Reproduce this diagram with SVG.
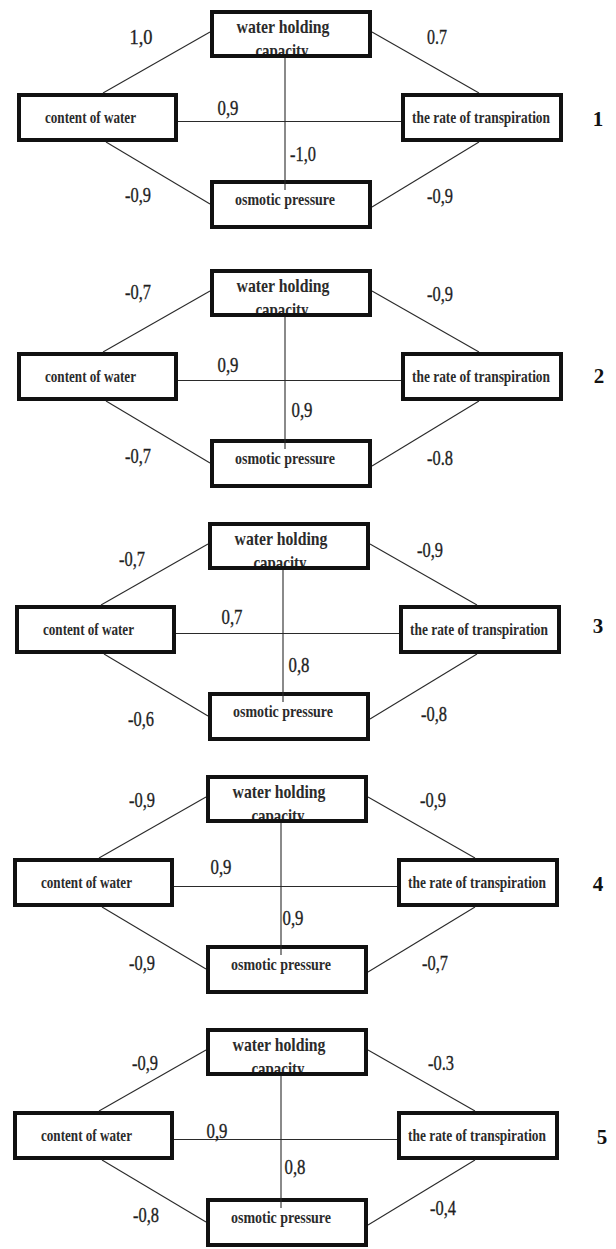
<svg xmlns="http://www.w3.org/2000/svg" width="616" height="1249" viewBox="0 0 616 1249">
<defs>
<style>
.bg{fill:#fff}
.box{fill:#fff;stroke:#111;stroke-width:4}
.frame{fill:none;stroke:#111;stroke-width:4}
.nt{font-family:"Liberation Serif","Times New Roman",serif;font-weight:bold;font-size:17px;fill:#2b2b2b;text-anchor:middle}
.nt2{font-size:19px}
.lbl{font-family:"Liberation Serif","Times New Roman",serif;font-size:22px;fill:#1e1e1e;stroke:#1e1e1e;stroke-width:0.35;text-anchor:middle}
.num{font-family:"Liberation Serif","Times New Roman",serif;font-weight:bold;font-size:21px;fill:#111;text-anchor:middle}
.cn line{stroke:#2a2a2a;stroke-width:1.1}
</style>
<clipPath id="clipTop"><rect x="210" y="0" width="162" height="48"/></clipPath>
</defs>
<rect x="0" y="0" width="616" height="1249" fill="#fff"/>

<!-- Panel 1 -->
<g id="panel1" transform="translate(0,10)">
 <g id="p1-water-holding-capacity">
  <rect class="bg" x="210" y="0" width="162" height="48"/>
  <g clip-path="url(#clipTop)">
   <text class="nt nt2" x="283" y="23" textLength="93" lengthAdjust="spacingAndGlyphs">water holding</text>
   <text class="nt nt2" x="282" y="47" textLength="53" lengthAdjust="spacingAndGlyphs">capacity</text>
  </g>
  <rect class="frame" x="212" y="2" width="158" height="44"/>
 </g>
 <g id="p1-content-of-water">
  <rect class="box" x="19" y="85" width="157" height="45"/>
  <text class="nt" x="90.5" y="113" textLength="91" lengthAdjust="spacingAndGlyphs">content of water</text>
 </g>
 <g id="p1-rate-of-transpiration">
  <rect class="box" x="403" y="85" width="158" height="45"/>
  <text class="nt" x="481" y="113" textLength="138" lengthAdjust="spacingAndGlyphs">the rate of transpiration</text>
 </g>
 <g id="p1-osmotic-pressure">
  <rect class="box" x="212" y="172" width="158" height="45"/>
  <text class="nt" x="285" y="195" textLength="100" lengthAdjust="spacingAndGlyphs">osmotic pressure</text>
 </g>
 <g id="p1-connectors" class="cn">
  <line x1="103" y1="83" x2="210" y2="22"/>
  <line x1="372" y1="22" x2="479" y2="83"/>
  <line x1="106" y1="132" x2="210" y2="194"/>
  <line x1="372" y1="197" x2="479" y2="132"/>
  <line x1="178" y1="111.5" x2="401" y2="111.5"/>
  <line x1="285" y1="48" x2="285" y2="180"/>
 </g>
 <g id="p1-labels">
  <text class="lbl" x="141" y="34" textLength="23" lengthAdjust="spacingAndGlyphs">1,0</text>
  <text class="lbl" x="437" y="34" textLength="20" lengthAdjust="spacingAndGlyphs">0.7</text>
  <text class="lbl" x="228" y="105" textLength="21" lengthAdjust="spacingAndGlyphs">0,9</text>
  <text class="lbl" x="303" y="151" textLength="26" lengthAdjust="spacingAndGlyphs">-1,0</text>
  <text class="lbl" x="138" y="192" textLength="26" lengthAdjust="spacingAndGlyphs">-0,9</text>
  <text class="lbl" x="440" y="193" textLength="26" lengthAdjust="spacingAndGlyphs">-0,9</text>
  <text class="num" x="598" y="116">1</text>
 </g>
</g>

<!-- Panel 2 -->
<g id="panel2" transform="translate(0,269)">
 <g id="p2-water-holding-capacity">
  <rect class="bg" x="210" y="0" width="162" height="48"/>
  <g clip-path="url(#clipTop)">
   <text class="nt nt2" x="283" y="23" textLength="93" lengthAdjust="spacingAndGlyphs">water holding</text>
   <text class="nt nt2" x="282" y="47" textLength="53" lengthAdjust="spacingAndGlyphs">capacity</text>
  </g>
  <rect class="frame" x="212" y="2" width="158" height="44"/>
 </g>
 <g id="p2-content-of-water">
  <rect class="box" x="19" y="85" width="157" height="45"/>
  <text class="nt" x="90.5" y="113" textLength="91" lengthAdjust="spacingAndGlyphs">content of water</text>
 </g>
 <g id="p2-rate-of-transpiration">
  <rect class="box" x="403" y="85" width="158" height="45"/>
  <text class="nt" x="481" y="113" textLength="138" lengthAdjust="spacingAndGlyphs">the rate of transpiration</text>
 </g>
 <g id="p2-osmotic-pressure">
  <rect class="box" x="212" y="172" width="158" height="45"/>
  <text class="nt" x="285" y="195" textLength="100" lengthAdjust="spacingAndGlyphs">osmotic pressure</text>
 </g>
 <g id="p2-connectors" class="cn">
  <line x1="103" y1="83" x2="210" y2="22"/>
  <line x1="372" y1="22" x2="479" y2="83"/>
  <line x1="106" y1="132" x2="210" y2="194"/>
  <line x1="372" y1="197" x2="479" y2="132"/>
  <line x1="178" y1="111.5" x2="401" y2="111.5"/>
  <line x1="285" y1="48" x2="285" y2="180"/>
 </g>
 <g id="p2-labels">
  <text class="lbl" x="138" y="30" textLength="26" lengthAdjust="spacingAndGlyphs">-0,7</text>
  <text class="lbl" x="440" y="32" textLength="26" lengthAdjust="spacingAndGlyphs">-0,9</text>
  <text class="lbl" x="228" y="103" textLength="21" lengthAdjust="spacingAndGlyphs">0,9</text>
  <text class="lbl" x="302" y="148" textLength="21" lengthAdjust="spacingAndGlyphs">0,9</text>
  <text class="lbl" x="138" y="194" textLength="26" lengthAdjust="spacingAndGlyphs">-0,7</text>
  <text class="lbl" x="440" y="196" textLength="26" lengthAdjust="spacingAndGlyphs">-0.8</text>
  <text class="num" x="599" y="114">2</text>
 </g>
</g>

<!-- Panel 3 -->
<g id="panel3" transform="translate(-2,522)">
 <g id="p3-water-holding-capacity">
  <rect class="bg" x="210" y="0" width="162" height="48"/>
  <g clip-path="url(#clipTop)">
   <text class="nt nt2" x="283" y="23" textLength="93" lengthAdjust="spacingAndGlyphs">water holding</text>
   <text class="nt nt2" x="282" y="47" textLength="53" lengthAdjust="spacingAndGlyphs">capacity</text>
  </g>
  <rect class="frame" x="212" y="2" width="158" height="44"/>
 </g>
 <g id="p3-content-of-water">
  <rect class="box" x="19" y="85" width="157" height="45"/>
  <text class="nt" x="90.5" y="113" textLength="91" lengthAdjust="spacingAndGlyphs">content of water</text>
 </g>
 <g id="p3-rate-of-transpiration">
  <rect class="box" x="403" y="85" width="158" height="45"/>
  <text class="nt" x="481" y="113" textLength="138" lengthAdjust="spacingAndGlyphs">the rate of transpiration</text>
 </g>
 <g id="p3-osmotic-pressure">
  <rect class="box" x="212" y="172" width="158" height="45"/>
  <text class="nt" x="285" y="195" textLength="100" lengthAdjust="spacingAndGlyphs">osmotic pressure</text>
 </g>
 <g id="p3-connectors" class="cn">
  <line x1="103" y1="83" x2="210" y2="22"/>
  <line x1="372" y1="22" x2="479" y2="83"/>
  <line x1="106" y1="132" x2="210" y2="194"/>
  <line x1="372" y1="197" x2="479" y2="132"/>
  <line x1="178" y1="111.5" x2="401" y2="111.5"/>
  <line x1="285" y1="48" x2="285" y2="180"/>
 </g>
 <g id="p3-labels">
  <text class="lbl" x="134" y="44" textLength="26" lengthAdjust="spacingAndGlyphs">-0,7</text>
  <text class="lbl" x="432" y="35" textLength="26" lengthAdjust="spacingAndGlyphs">-0,9</text>
  <text class="lbl" x="234" y="102" textLength="21" lengthAdjust="spacingAndGlyphs">0,7</text>
  <text class="lbl" x="301" y="150" textLength="21" lengthAdjust="spacingAndGlyphs">0,8</text>
  <text class="lbl" x="143" y="204" textLength="26" lengthAdjust="spacingAndGlyphs">-0,6</text>
  <text class="lbl" x="436" y="199" textLength="26" lengthAdjust="spacingAndGlyphs">-0,8</text>
  <text class="num" x="600" y="111">3</text>
 </g>
</g>

<!-- Panel 4 -->
<g id="panel4" transform="translate(-4,775)">
 <g id="p4-water-holding-capacity">
  <rect class="bg" x="210" y="0" width="162" height="48"/>
  <g clip-path="url(#clipTop)">
   <text class="nt nt2" x="283" y="23" textLength="93" lengthAdjust="spacingAndGlyphs">water holding</text>
   <text class="nt nt2" x="282" y="47" textLength="53" lengthAdjust="spacingAndGlyphs">capacity</text>
  </g>
  <rect class="frame" x="212" y="2" width="158" height="44"/>
 </g>
 <g id="p4-content-of-water">
  <rect class="box" x="19" y="85" width="157" height="45"/>
  <text class="nt" x="90.5" y="113" textLength="91" lengthAdjust="spacingAndGlyphs">content of water</text>
 </g>
 <g id="p4-rate-of-transpiration">
  <rect class="box" x="403" y="85" width="158" height="45"/>
  <text class="nt" x="481" y="113" textLength="138" lengthAdjust="spacingAndGlyphs">the rate of transpiration</text>
 </g>
 <g id="p4-osmotic-pressure">
  <rect class="box" x="212" y="172" width="158" height="45"/>
  <text class="nt" x="285" y="195" textLength="100" lengthAdjust="spacingAndGlyphs">osmotic pressure</text>
 </g>
 <g id="p4-connectors" class="cn">
  <line x1="103" y1="83" x2="210" y2="22"/>
  <line x1="372" y1="22" x2="479" y2="83"/>
  <line x1="106" y1="132" x2="210" y2="194"/>
  <line x1="372" y1="197" x2="479" y2="132"/>
  <line x1="178" y1="111.5" x2="401" y2="111.5"/>
  <line x1="285" y1="48" x2="285" y2="180"/>
 </g>
 <g id="p4-labels">
  <text class="lbl" x="146" y="32" textLength="26" lengthAdjust="spacingAndGlyphs">-0,9</text>
  <text class="lbl" x="437" y="32" textLength="26" lengthAdjust="spacingAndGlyphs">-0,9</text>
  <text class="lbl" x="225" y="99" textLength="21" lengthAdjust="spacingAndGlyphs">0,9</text>
  <text class="lbl" x="297" y="150" textLength="21" lengthAdjust="spacingAndGlyphs">0,9</text>
  <text class="lbl" x="146" y="195" textLength="26" lengthAdjust="spacingAndGlyphs">-0,9</text>
  <text class="lbl" x="439" y="195" textLength="26" lengthAdjust="spacingAndGlyphs">-0,7</text>
  <text class="num" x="602" y="116">4</text>
 </g>
</g>

<!-- Panel 5 -->
<g id="panel5" transform="translate(-4,1028)">
 <g id="p5-water-holding-capacity">
  <rect class="bg" x="210" y="0" width="162" height="48"/>
  <g clip-path="url(#clipTop)">
   <text class="nt nt2" x="283" y="23" textLength="93" lengthAdjust="spacingAndGlyphs">water holding</text>
   <text class="nt nt2" x="282" y="47" textLength="53" lengthAdjust="spacingAndGlyphs">capacity</text>
  </g>
  <rect class="frame" x="212" y="2" width="158" height="44"/>
 </g>
 <g id="p5-content-of-water">
  <rect class="box" x="19" y="85" width="157" height="45"/>
  <text class="nt" x="90.5" y="113" textLength="91" lengthAdjust="spacingAndGlyphs">content of water</text>
 </g>
 <g id="p5-rate-of-transpiration">
  <rect class="box" x="403" y="85" width="158" height="45"/>
  <text class="nt" x="481" y="113" textLength="138" lengthAdjust="spacingAndGlyphs">the rate of transpiration</text>
 </g>
 <g id="p5-osmotic-pressure">
  <rect class="box" x="212" y="172" width="158" height="45"/>
  <text class="nt" x="285" y="195" textLength="100" lengthAdjust="spacingAndGlyphs">osmotic pressure</text>
 </g>
 <g id="p5-connectors" class="cn">
  <line x1="103" y1="83" x2="210" y2="22"/>
  <line x1="372" y1="22" x2="479" y2="83"/>
  <line x1="106" y1="132" x2="210" y2="194"/>
  <line x1="372" y1="197" x2="479" y2="132"/>
  <line x1="178" y1="111.5" x2="401" y2="111.5"/>
  <line x1="285" y1="48" x2="285" y2="180"/>
 </g>
 <g id="p5-labels">
  <text class="lbl" x="149" y="42" textLength="26" lengthAdjust="spacingAndGlyphs">-0,9</text>
  <text class="lbl" x="445" y="42" textLength="26" lengthAdjust="spacingAndGlyphs">-0.3</text>
  <text class="lbl" x="221" y="110" textLength="21" lengthAdjust="spacingAndGlyphs">0,9</text>
  <text class="lbl" x="299" y="146" textLength="21" lengthAdjust="spacingAndGlyphs">0,8</text>
  <text class="lbl" x="150" y="194" textLength="26" lengthAdjust="spacingAndGlyphs">-0,8</text>
  <text class="lbl" x="447" y="187" textLength="26" lengthAdjust="spacingAndGlyphs">-0,4</text>
  <text class="num" x="606" y="116">5</text>
 </g>
</g>
</svg>
